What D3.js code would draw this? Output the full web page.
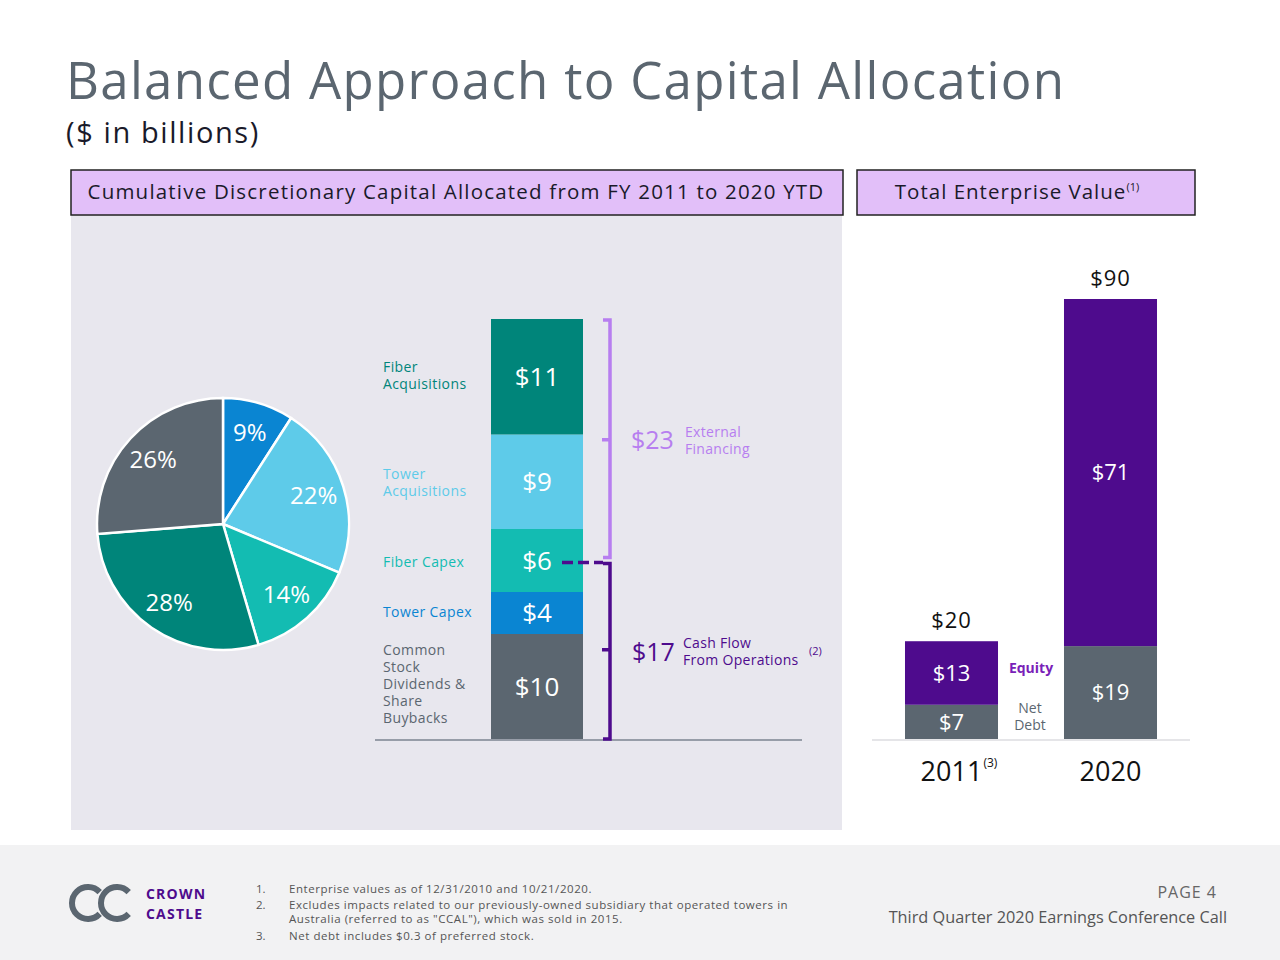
<!DOCTYPE html>
<html><head><meta charset="utf-8">
<script src="https://cdn.jsdelivr.net/npm/d3@7/dist/d3.min.js"></script>
<style>body{margin:0;background:#fff}svg{display:block;font-family:"Open Sans",Lato,sans-serif}</style>
</head><body><svg id="c" width="1280" height="960"></svg>
<script>
// ---- data ----
const capCategories = ["Common Stock Dividends & Share Buybacks","Tower Capex","Fiber Capex","Tower Acquisitions","Fiber Acquisitions"];
const capValues = [10,4,6,9,11];
const capLabels = ["$10","$4","$6","$9","$11"];
const pieCategories = ["Tower Capex","Tower Acquisitions","Fiber Capex","Fiber Acquisitions","Common Stock Dividends & Share Buybacks"];
const piePercents = [9,22,14,28,26];
const evYears = ["2011","2020"];
const evNetDebt = [7,19];
const evEquity = [13,71];
const evTotals = [20,90];
const externalFinancing = 23;
const cashFlowOps = 17;

const colors = {
  "Fiber Acquisitions":"#00857a","Tower Acquisitions":"#5ecbe9","Fiber Capex":"#13bcb2",
  "Tower Capex":"#0a85d2","Common Stock Dividends & Share Buybacks":"#5b6670"
};
const purple="#4e0b8d", lightPurple="#b77ef0", grayC="#5b6670";

const svg=d3.select("#c");
// title
svg.append("text").attr("x",66).attr("y",99).attr("font-size",51).attr("letter-spacing",1.3).attr("fill","#5b6670").text("Balanced Approach to Capital Allocation");
svg.append("text").attr("x",66).attr("y",143).attr("font-size",29).attr("letter-spacing",1.6).attr("fill","#1a1a2a").text("($ in billions)");

// panel backgrounds
svg.append("rect").attr("x",71).attr("y",215).attr("width",771).attr("height",615).attr("fill","#e8e7ee");
svg.append("rect").attr("x",71).attr("y",170).attr("width",772).attr("height",45).attr("fill","#e2bff9").attr("stroke","#222").attr("stroke-width",1.5);
svg.append("text").attr("x",456).attr("y",199).attr("text-anchor","middle").attr("font-size",20.5).attr("letter-spacing",1.2).attr("fill","#1a1a2a").text("Cumulative Discretionary Capital Allocated from FY 2011 to 2020 YTD");
svg.append("rect").attr("x",857).attr("y",170).attr("width",338).attr("height",45).attr("fill","#e2bff9").attr("stroke","#222").attr("stroke-width",1.5);
const tev=svg.append("text").attr("x",1017).attr("y",199).attr("text-anchor","middle").attr("font-size",20.5).attr("letter-spacing",1).attr("fill","#1a1a2a");
tev.append("tspan").text("Total Enterprise Value");
tev.append("tspan").attr("font-size",11).attr("dy",-8).attr("letter-spacing",0).text("(1)");

// footer
svg.append("rect").attr("x",0).attr("y",845).attr("width",1280).attr("height",115).attr("fill","#f2f2f3");

// ---- pie ----
const pieG=svg.append("g").attr("transform","translate(223,524)");
const pie=d3.pie().sort(null).value(d=>d)(piePercents);
const arc=d3.arc().innerRadius(0).outerRadius(126);
const labArc=d3.arc().innerRadius(95).outerRadius(95);
pieG.selectAll("path").data(pie).join("path").attr("d",arc)
  .attr("fill",(d,i)=>colors[pieCategories[i]]).attr("stroke","#fff").attr("stroke-width",2.5);
pieG.selectAll("text").data(pie).join("text")
  .attr("transform",d=>`translate(${labArc.centroid(d)})`).attr("text-anchor","middle").attr("dy","0.35em")
  .attr("font-size",24).attr("fill","#fff").text((d,i)=>piePercents[i]+"%");

// ---- stacked bar ----
const yL=d3.scaleLinear().domain([0,40]).range([739,319]);
let cum=0;
const stack=capValues.map((v,i)=>{const s={cat:capCategories[i],v,lab:capLabels[i],y0:cum,y1:cum+v};cum+=v;return s;});
const bx=491,bw=92;
svg.selectAll("rect.seg").data(stack).join("rect").attr("class","seg")
  .attr("x",bx).attr("width",bw).attr("y",d=>yL(d.y1)).attr("height",d=>yL(d.y0)-yL(d.y1))
  .attr("fill",d=>colors[d.cat]);
svg.selectAll("text.seg").data(stack).join("text").attr("class","seg")
  .attr("x",bx+bw/2).attr("y",d=>(yL(d.y0)+yL(d.y1))/2).attr("dy","0.35em").attr("text-anchor","middle")
  .attr("font-size",26).attr("fill","#fff").text(d=>d.lab);
svg.append("line").attr("x1",375).attr("x2",802).attr("y1",740).attr("y2",740).attr("stroke","#7d8590").attr("stroke-width",1.5);

// category labels
const catLines={
 "Fiber Acquisitions":["Fiber","Acquisitions"],
 "Tower Acquisitions":["Tower","Acquisitions"],
 "Fiber Capex":["Fiber Capex"],
 "Tower Capex":["Tower Capex"],
 "Common Stock Dividends & Share Buybacks":["Common","Stock","Dividends &","Share","Buybacks"]
};
const labTop={"Fiber Acquisitions":372,"Tower Acquisitions":479,"Fiber Capex":567,"Tower Capex":617,"Common Stock Dividends & Share Buybacks":655};
stack.forEach(d=>{
  const t=svg.append("text").attr("x",383).attr("y",labTop[d.cat]).attr("font-size",14).attr("fill",colors[d.cat]).attr("letter-spacing",0.4);
  catLines[d.cat].forEach((l,j)=>t.append("tspan").attr("x",383).attr("dy",j?17:0).text(l));
});

// brackets
function bracket(y0,y1,col,ym){
  const x=610;
  svg.append("path").attr("d",`M${x-7},${y0}H${x}V${y1}H${x-7}M${x},${ym}H${x-8}`)
   .attr("fill","none").attr("stroke",col).attr("stroke-width",3.5);
}
const split=yL(cashFlowOps);
bracket(yL(40)+1,split-3,lightPurple,yL(cashFlowOps+externalFinancing/2));
bracket(split+3,yL(0),purple,yL(cashFlowOps/2));
svg.append("line").attr("x1",562).attr("x2",603).attr("y1",split+2).attr("y2",split+2).attr("stroke",purple).attr("stroke-width",3.5).attr("stroke-dasharray","11,5");
svg.append("text").attr("x",631).attr("y",449).attr("font-size",25).attr("fill",lightPurple).text("$"+externalFinancing);
const ef=svg.append("text").attr("x",685).attr("y",437).attr("font-size",14).attr("letter-spacing",0.3).attr("fill",lightPurple);
ef.append("tspan").attr("x",685).text("External");ef.append("tspan").attr("x",685).attr("dy",17).text("Financing");
svg.append("text").attr("x",632).attr("y",661).attr("font-size",25).attr("fill",purple).text("$"+cashFlowOps);
const cf=svg.append("text").attr("x",683).attr("y",648).attr("font-size",14).attr("letter-spacing",0.3).attr("fill",purple);
cf.append("tspan").attr("x",683).text("Cash Flow");cf.append("tspan").attr("x",683).attr("dy",17).text("From Operations");
svg.append("text").attr("x",809).attr("y",655).attr("font-size",11).attr("fill",purple).text("(2)");

// ---- EV bars ----
const yR=d3.scaleLinear().domain([0,90]).range([739,299]);
const xR=d3.scaleBand().domain(evYears).range([872,1190]).paddingInner(0.415).paddingOuter(0.2075);
const evData=evYears.map((y,i)=>({y,debt:evNetDebt[i],eq:evEquity[i],tot:evTotals[i]}));
svg.selectAll("rect.debt").data(evData).join("rect").attr("class","debt")
  .attr("x",d=>xR(d.y)).attr("width",xR.bandwidth()).attr("y",d=>yR(d.debt)).attr("height",d=>yR(0)-yR(d.debt)).attr("fill",grayC);
svg.selectAll("rect.eq").data(evData).join("rect").attr("class","eq")
  .attr("x",d=>xR(d.y)).attr("width",xR.bandwidth()).attr("y",d=>yR(d.tot)).attr("height",d=>yR(d.debt)-yR(d.tot)).attr("fill",purple);
svg.selectAll("text.debt").data(evData).join("text").attr("class","debt")
  .attr("x",d=>xR(d.y)+xR.bandwidth()/2).attr("y",d=>(yR(0)+yR(d.debt))/2).attr("dy","0.36em").attr("text-anchor","middle")
  .attr("font-size",22).attr("fill","#fff").text(d=>"$"+d.debt);
svg.selectAll("text.eq").data(evData).join("text").attr("class","eq")
  .attr("x",d=>xR(d.y)+xR.bandwidth()/2).attr("y",d=>(yR(d.debt)+yR(d.tot))/2).attr("dy","0.36em").attr("text-anchor","middle")
  .attr("font-size",22).attr("fill","#fff").text(d=>"$"+d.eq);
svg.selectAll("text.tot").data(evData).join("text").attr("class","tot")
  .attr("x",d=>xR(d.y)+xR.bandwidth()/2).attr("y",d=>yR(d.tot)-13).attr("text-anchor","middle")
  .attr("font-size",22).attr("letter-spacing",1).attr("fill","#111").text(d=>"$"+d.tot);
svg.append("line").attr("x1",872).attr("x2",1190).attr("y1",740).attr("y2",740).attr("stroke","#dcdce0").attr("stroke-width",1.5);
const yrT=svg.selectAll("text.yr").data(evYears).join("text").attr("class","yr")
  .attr("x",d=>xR(d)+xR.bandwidth()/2).attr("y",781).attr("text-anchor","middle").attr("font-size",27).attr("fill","#111").text(d=>d);
const w0=yrT.nodes()[0].getComputedTextLength();
svg.append("text").attr("x",xR(evYears[0])+xR.bandwidth()/2+w0/2+1).attr("y",767).attr("font-size",12).attr("fill","#111").text("(3)");
svg.append("text").attr("x",1031).attr("y",673).attr("text-anchor","middle").attr("font-size",14).attr("font-weight","bold").attr("fill","#7a1fb8").text("Equity");
const nd=svg.append("text").attr("x",1030).attr("y",713).attr("text-anchor","middle").attr("font-size",14).attr("fill",grayC);
nd.append("tspan").attr("x",1030).text("Net");nd.append("tspan").attr("x",1030).attr("dy",17).text("Debt");

// ---- footer content ----
const cArc=d3.arc().innerRadius(16).outerRadius(16).startAngle(Math.PI/2+0.75).endAngle(Math.PI/2+2*Math.PI-0.75);
svg.append("path").attr("d",cArc()).attr("transform","translate(88,903)").attr("fill","none").attr("stroke",grayC).attr("stroke-width",6);
svg.append("path").attr("d",cArc()).attr("transform","translate(117,903)").attr("fill","none").attr("stroke",grayC).attr("stroke-width",6);
const logoT=svg.append("text").attr("x",146).attr("y",899).attr("font-size",14).attr("font-weight","bold").attr("letter-spacing",1.2).attr("fill",purple);
logoT.append("tspan").attr("x",146).text("CROWN");
logoT.append("tspan").attr("x",146).attr("dy",19.5).text("CASTLE");
const notes=[["1.",["Enterprise values as of 12/31/2010 and 10/21/2020."],893],["2.",["Excludes impacts related to our previously-owned subsidiary that operated towers in","Australia (referred to as \"CCAL\"), which was sold in 2015."],909],["3.",["Net debt includes $0.3 of preferred stock."],940]];
notes.forEach(n=>{
  svg.append("text").attr("x",256).attr("y",n[2]).attr("font-size",11.5).attr("fill","#555").text(n[0]);
  const t=svg.append("text").attr("x",289).attr("y",n[2]).attr("font-size",11.5).attr("letter-spacing",0.55).attr("fill","#555");
  n[1].forEach((l,j)=>t.append("tspan").attr("x",289).attr("dy",j?14:0).text(l));
});
svg.append("text").attr("x",1217).attr("y",898).attr("text-anchor","end").attr("font-size",16).attr("fill","#666").attr("letter-spacing",1).text("PAGE  4");
svg.append("text").attr("x",1227).attr("y",923).attr("text-anchor","end").attr("font-size",16.3).attr("fill","#555").text("Third Quarter 2020 Earnings Conference Call");
</script></body></html>
